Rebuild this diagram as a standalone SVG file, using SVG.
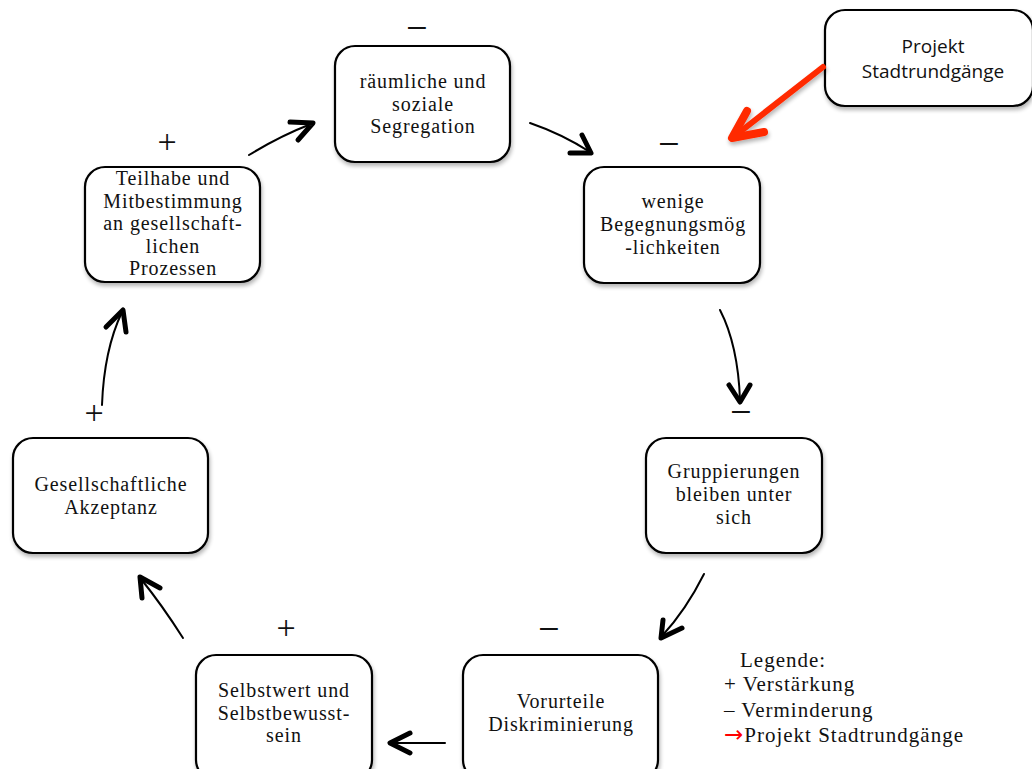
<svg xmlns="http://www.w3.org/2000/svg" width="1032" height="769" viewBox="0 0 1032 769">
<defs>
<filter id="sh" x="-10%" y="-10%" width="125%" height="130%">
<feGaussianBlur in="SourceAlpha" stdDeviation="2"/>
<feOffset dx="1" dy="3" result="b"/>
<feComponentTransfer><feFuncA type="linear" slope="0.3"/></feComponentTransfer>
<feMerge><feMergeNode/><feMergeNode in="SourceGraphic"/></feMerge>
</filter>
</defs>
<style>
.box{fill:#fff;stroke:#000;stroke-width:2.2;filter:url(#sh)}
.t{font-family:"Liberation Serif",serif;font-size:20px;letter-spacing:0.9px;fill:#111;text-anchor:middle}
.s{font-family:"Open Sans",sans-serif;font-size:19px;fill:#111;text-anchor:middle}
.minus{font-family:"Liberation Sans",sans-serif;font-size:32px;fill:#111;text-anchor:middle}
.plus{font-family:"Liberation Serif",serif;font-size:34px;fill:#111;text-anchor:middle}
.lg{font-family:"Liberation Serif",serif;font-size:21px;letter-spacing:1px;fill:#111}
.ln{fill:none;stroke:#000;stroke-width:2;stroke-linecap:round}
.hd{fill:none;stroke:#000;stroke-width:5;stroke-linecap:round;stroke-linejoin:round}
.red{fill:none;stroke:#ff2a00;stroke-linecap:round;stroke-linejoin:round}
</style>
<rect width="1032" height="769" fill="#fff"/>

<g id="segregation">
<rect class="box" x="335" y="46" width="175" height="116" rx="20"/>
<text class="t" x="423" y="88">räumliche und</text>
<text class="t" x="423" y="110.5">soziale</text>
<text class="t" x="423" y="133">Segregation</text>
</g>
<g id="wenige">
<rect class="box" x="584" y="167" width="176" height="116" rx="20"/>
<text class="t" x="673" y="208">wenige</text>
<text class="t" x="673" y="231">Begegnungsmög</text>
<text class="t" x="673" y="254">-lichkeiten</text>
</g>
<g id="projekt">
<rect class="box" x="825" y="10" width="208" height="96" rx="20"/>
<text class="s" x="933" y="53">Projekt</text>
<text class="s" x="933" y="78">Stadtrundgänge</text>
</g>
<g id="teilhabe">
<rect class="box" x="85" y="167" width="175" height="115" rx="20"/>
<text class="t" x="173" y="185">Teilhabe und</text>
<text class="t" x="173" y="207.5">Mitbestimmung</text>
<text class="t" x="173" y="230">an gesellschaft-</text>
<text class="t" x="173" y="252.5">lichen</text>
<text class="t" x="173" y="275">Prozessen</text>
</g>
<g id="gruppierungen">
<rect class="box" x="646" y="438" width="176" height="115" rx="20"/>
<text class="t" x="734" y="478">Gruppierungen</text>
<text class="t" x="734" y="501">bleiben unter</text>
<text class="t" x="734" y="524">sich</text>
</g>
<g id="akzeptanz">
<rect class="box" x="13" y="438" width="195" height="115" rx="20"/>
<text class="t" x="111" y="491">Gesellschaftliche</text>
<text class="t" x="111" y="514">Akzeptanz</text>
</g>
<g id="selbstwert">
<rect class="box" x="196" y="655" width="176" height="125" rx="20"/>
<text class="t" x="284" y="697">Selbstwert und</text>
<text class="t" x="284" y="719.5">Selbstbewusst-</text>
<text class="t" x="284" y="742">sein</text>
</g>
<g id="vorurteile">
<rect class="box" x="463" y="655" width="195" height="125" rx="20"/>
<text class="t" x="561" y="708">Vorurteile</text>
<text class="t" x="561" y="730.5">Diskriminierung</text>
</g>

<g id="signs">
<text class="minus" x="417" y="36">–</text>
<text class="minus" x="669" y="152">–</text>
<text class="plus" x="167" y="153">+</text>
<text class="minus" x="741" y="420">–</text>
<text class="plus" x="94" y="424">+</text>
<text class="plus" x="286" y="639">+</text>
<text class="minus" x="549" y="637">–</text>
</g>

<g id="connectors">
<path class="ln" d="M249 155 Q280 136 311 124"/>
<path class="hd" d="M290 122 L313 123 L298 140"/>
<path class="ln" d="M530 123 Q562 134 590 152"/>
<path class="hd" d="M582 135 L591 153 L570 153"/>
<path class="ln" d="M720 310 Q738 345 740 400"/>
<path class="hd" d="M729 385 L740 402 L750 385"/>
<path class="ln" d="M704 574 Q686 610 662 636"/>
<path class="hd" d="M663 620 L661 638 L682 628"/>
<path class="ln" d="M445 743 L391 743"/>
<path class="hd" d="M410 733 L390 743 L410 753"/>
<path class="ln" d="M183 638 Q162 605 141 579"/>
<path class="hd" d="M142 598 L140 577 L160 588"/>
<path class="ln" d="M102 405 Q104 350 122 312"/>
<path class="hd" d="M106 327 L123 310 L126 332"/>
<g filter="url(#sh)">
<path class="red" stroke-width="6" d="M823 67 L736 135"/>
<path class="red" stroke-width="8" d="M747 111 L732 138 L764 132"/>
</g>
</g>

<g id="legend">
<text class="lg" x="740" y="667">Legende:</text>
<text class="lg" x="724" y="691">+ Verstärkung</text>
<text class="lg" x="724" y="717">– Verminderung</text>
<text class="lg" x="724" y="742"><tspan fill="#ff0000" font-family="DejaVu Sans, sans-serif" font-size="23">→</tspan>Projekt Stadtrundgänge</text>
</g>
</svg>
